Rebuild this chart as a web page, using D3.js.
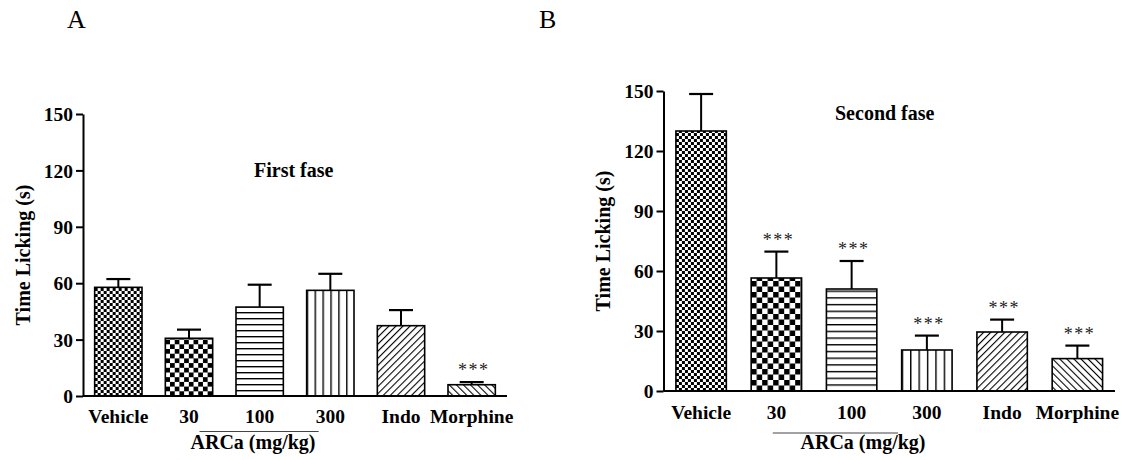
<!doctype html>
<html>
<head>
<meta charset="utf-8"/>
<title>Time Licking</title>
<script src="https://d3js.org/d3.v7.min.js"></script>
<style>
body{margin:0;background:#fff;}
text{font-family:"Liberation Serif","Times New Roman",serif;fill:#000;}
</style>
</head>
<body>
<script type="text/javascript">
// data
var categories = ["Vehicle", "30", "100", "300", "Indo", "Morphine"];
var yTicks = [0, 30, 60, 90, 120, 150];
var firstMean = [57.8, 30.7, 47.3, 56.2, 37.4, 6.0];
var firstErr  = [62.2, 35.3, 59.2, 65.0, 45.7, 7.4];
var firstStars = ["", "", "", "", "", "***"];
var secondMean = [130, 56.5, 51, 20.5, 29.5, 16.2];
var secondErr  = [148.5, 69.7, 65, 27.7, 35.7, 22.7];
var secondStars = ["", "***", "***", "***", "***", "***"];
var fills = ["fine", "check", "hline", "vline", "diagR", "diagL"];

var svg = d3.select("body").append("svg")
  .attr("width", 1131).attr("height", 460);
var defs = svg.append("defs");

svg.append("text").attr("x", 67).attr("y", 28).style("font-size", "26px").text("A");
svg.append("text").attr("x", 539).attr("y", 28).style("font-size", "26px").text("B");

Desenhar({id: "a", x0: 83, x1: 507, yBottom: 396, yTop: 114, means: firstMean, errs: firstErr, stars: firstStars,
  title: "First fase", titleX: 254, titleY: 177, tickY: 423, axisTitleX: 30, check: 4.7, hgap: 6,
  lineFrom: 10.5, lineTo: 59, lineY: 431.5, arcaX: 253, arcaY: 449});
Desenhar({id: "b", x0: 663.5, x1: 1115, yBottom: 391, yTop: 91, means: secondMean, errs: secondErr, stars: secondStars,
  title: "Second fase", titleX: 835, titleY: 120, tickY: 419, axisTitleX: 610, check: 5.5, hgap: 6.7,
  lineFrom: -3.6, lineTo: 46.4, lineY: 433, arcaX: 863, arcaY: 449});

function Desenhar(p)
{
  var x = d3.scaleBand().domain(categories).range([p.x0, p.x1]).paddingInner(0.33).paddingOuter(0.165);
  var y = d3.scaleLinear().domain([0, 150]).range([p.yBottom, p.yTop]);
  var bw = x.bandwidth();
  var g = svg.append("g");

  // patterns
  var pf = defs.append("pattern").attr("id", p.id + "fine").attr("patternUnits", "userSpaceOnUse")
    .attr("x", x("Vehicle")).attr("y", p.yBottom).attr("width", 6).attr("height", 6);
  pf.append("rect").attr("width", 6).attr("height", 6).attr("fill", "#fff");
  pf.append("rect").attr("width", 3).attr("height", 3).attr("fill", "#000");
  pf.append("rect").attr("x", 3).attr("y", 3).attr("width", 3).attr("height", 3).attr("fill", "#000");

  var c = p.check;
  var pc = defs.append("pattern").attr("id", p.id + "check").attr("patternUnits", "userSpaceOnUse")
    .attr("x", x("30")).attr("y", p.yBottom).attr("width", 2 * c).attr("height", 2 * c);
  pc.append("rect").attr("width", 2 * c).attr("height", 2 * c).attr("fill", "#fff");
  pc.append("rect").attr("width", c).attr("height", c).attr("fill", "#000");
  pc.append("rect").attr("x", c).attr("y", c).attr("width", c).attr("height", c).attr("fill", "#000");

  var ph = defs.append("pattern").attr("id", p.id + "hline").attr("patternUnits", "userSpaceOnUse")
    .attr("y", p.yBottom).attr("width", 10).attr("height", p.hgap);
  ph.append("rect").attr("width", 10).attr("height", p.hgap).attr("fill", "#fff");
  ph.append("line").attr("x1", 0).attr("x2", 10).attr("y1", 0.7).attr("y2", 0.7)
    .attr("stroke", "#000").attr("stroke-width", 1.4);

  var vw = bw / 6;
  var pv = defs.append("pattern").attr("id", p.id + "vline").attr("patternUnits", "userSpaceOnUse")
    .attr("x", x("300")).attr("width", vw).attr("height", 10);
  pv.append("rect").attr("width", vw).attr("height", 10).attr("fill", "#fff");
  pv.append("line").attr("x1", 0.7).attr("x2", 0.7).attr("y1", 0).attr("y2", 10)
    .attr("stroke", "#000").attr("stroke-width", 1.4);

  [["diagR", 45], ["diagL", -45]].forEach(function(d) {
    var pd = defs.append("pattern").attr("id", p.id + d[0]).attr("patternUnits", "userSpaceOnUse")
      .attr("width", 5).attr("height", 5).attr("patternTransform", "rotate(" + d[1] + ")");
    pd.append("rect").attr("width", 5).attr("height", 5).attr("fill", "#fff");
    pd.append("line").attr("x1", 0).attr("x2", 0).attr("y1", 0).attr("y2", 5)
      .attr("stroke", "#000").attr("stroke-width", 2.2);
  });

  // error bars
  g.selectAll(".err").data(categories).enter().append("line")
    .attr("x1", function(d) { return x(d) + bw / 2; })
    .attr("x2", function(d) { return x(d) + bw / 2; })
    .attr("y1", function(d, i) { return y(p.means[i]); })
    .attr("y2", function(d, i) { return y(p.errs[i]); })
    .attr("stroke", "#000").attr("stroke-width", 2);
  g.selectAll(".cap").data(categories).enter().append("line")
    .attr("x1", function(d) { return x(d) + bw / 2 - 12; })
    .attr("x2", function(d) { return x(d) + bw / 2 + 12; })
    .attr("y1", function(d, i) { return y(p.errs[i]); })
    .attr("y2", function(d, i) { return y(p.errs[i]); })
    .attr("stroke", "#000").attr("stroke-width", 2.2);

  // bars
  g.selectAll(".bar").data(categories).enter().append("rect")
    .attr("x", function(d) { return x(d); })
    .attr("y", function(d, i) { return y(p.means[i]); })
    .attr("width", bw)
    .attr("height", function(d, i) { return y(0) - y(p.means[i]); })
    .attr("fill", function(d, i) { return "url(#" + p.id + fills[i] + ")"; })
    .attr("stroke", "#000").attr("stroke-width", 1.6);

  // stars
  g.selectAll(".star").data(categories).enter().append("text")
    .attr("x", function(d) { return x(d) + bw / 2 + 2; })
    .attr("y", function(d, i) { return y(p.errs[i]) - 6; })
    .attr("text-anchor", "middle")
    .style("font-size", "18px").style("letter-spacing", "1.5px").style("fill", "#222")
    .text(function(d, i) { return p.stars[i]; });

  // y axis
  var ya = g.append("g").attr("transform", "translate(" + p.x0 + ",0)")
    .call(d3.axisLeft(y).tickValues(yTicks).tickSize(7).tickSizeOuter(0).tickPadding(3));
  ya.select(".domain").attr("stroke-width", 2);
  ya.selectAll(".tick line").attr("stroke-width", 2);
  ya.selectAll(".tick text").style("font-family", "'Liberation Serif',serif")
    .style("font-size", "19.5px").style("font-weight", "bold").attr("dy", "0.34em");

  // x baseline
  g.append("line").attr("x1", p.x0).attr("x2", p.x1).attr("y1", y(0)).attr("y2", y(0))
    .attr("stroke", "#000").attr("stroke-width", 2);

  g.selectAll(".xl").data(categories).enter().append("text")
    .attr("x", function(d) { return x(d) + bw / 2; })
    .attr("y", p.tickY)
    .attr("text-anchor", "middle")
    .style("font-size", "19.5px").style("font-weight", "bold")
    .text(function(d) { return d; });

  // ARCa group line and label
  g.append("line")
    .attr("x1", x("30") + bw / 2 + p.lineFrom)
    .attr("x2", x("100") + bw / 2 + p.lineTo)
    .attr("y1", p.lineY).attr("y2", p.lineY)
    .attr("stroke", "#444").attr("stroke-width", 1);
  g.append("text").attr("x", p.arcaX).attr("y", p.arcaY).attr("text-anchor", "middle")
    .style("font-size", "20px").style("font-weight", "bold").text("ARCa (mg/kg)");

  // y title
  g.append("text")
    .attr("transform", "translate(" + p.axisTitleX + "," + (p.yBottom + p.yTop) / 2 + ") rotate(-90)")
    .attr("text-anchor", "middle")
    .style("font-size", "20px").style("font-weight", "bold").text("Time Licking (s)");

  g.append("text").attr("x", p.titleX).attr("y", p.titleY)
    .style("font-size", "20px").style("font-weight", "bold").text(p.title);
}
</script>
</body>
</html>
